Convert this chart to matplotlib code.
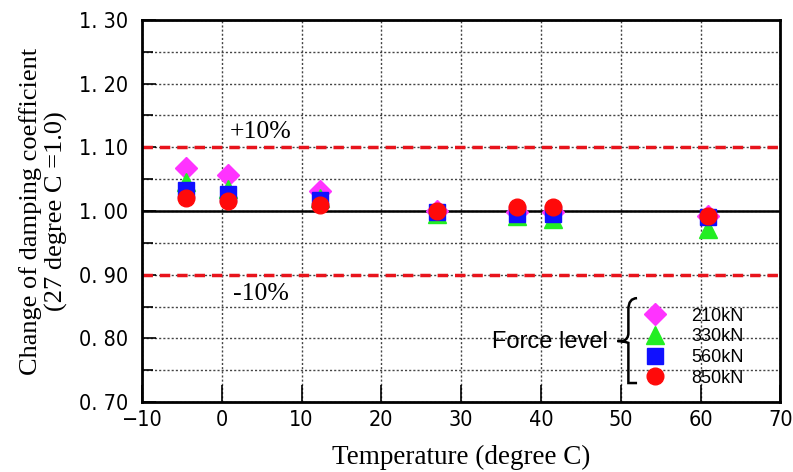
import numpy as np
import matplotlib.pyplot as plt
from matplotlib.path import Path
from matplotlib.patches import PathPatch

temps = [-4.5, 0.8, 12.3, 27.0, 37.0, 41.5, 61.0]
f210 = [1.068, 1.057, 1.032, 1.000, 0.999, 0.999, 0.992]
f330 = [1.045, 1.035, 1.020, 0.996, 0.992, 0.988, 0.972]
f560 = [1.033, 1.026, 1.017, 0.999, 0.996, 0.996, 0.990]
f850 = [1.020, 1.016, 1.010, 1.000, 1.006, 1.006, 0.992]
labels = ['210kN', '330kN', '560kN', '850kN']

xticks = np.arange(-10, 71, 10)
yticks = np.arange(70, 131, 10)  # in hundredths

fig = plt.figure(figsize=(7.93, 4.72), dpi=100)
ax = fig.add_axes([0.179, 0.148, 0.805, 0.810])

ax.set_xlim(-10, 70)
ax.set_ylim(0.70, 1.30)
ax.set_xticks(xticks)
ax.set_yticks(yticks / 100)
ax.set_yticks(np.arange(75, 130, 10) / 100, minor=True)
tickfont = dict(family='DejaVu Sans', fontstretch='condensed', fontsize=15.5)
ax.set_xticklabels([str(t).replace('-', '\u2212') for t in xticks], **tickfont)
ax.set_yticklabels(['%d. %02d' % (v // 100, v % 100) for v in yticks], **tickfont)
ax.tick_params(direction='in', length=10, width=1.2)
ax.tick_params(axis='y', which='minor', direction='in', length=8, width=1.2)
ax.tick_params(axis='y', pad=10)
ax.tick_params(axis='x', length=12, pad=6)
for s in ax.spines.values():
    s.set_linewidth(2)

ax.grid(True, which='both', linestyle=(0, (1.5, 1.5)), color='#444444', linewidth=1.0)
ax.set_axisbelow(True)

ax.axhline(1.0, color='black', lw=1.8, zorder=2)
ax.axhline(1.1, color='#e8141c', lw=2.5, ls=(0, (3, 2)), zorder=2)
ax.axhline(0.9, color='#e8141c', lw=2.5, ls=(0, (3, 2)), zorder=2)
ax.text(1.0, 1.124, '+10%', family='Liberation Serif', fontsize=18.5, va='center')
ax.text(1.4, 0.870, '-10%', family='Liberation Serif', fontsize=18.5, va='center')

ax.plot(temps, f210, 'D', color='#ff33ff', ms=11, ls='none', zorder=3, label=labels[0])
ax.plot(temps, f330, '^', color='#22ee22', ms=13, ls='none', zorder=4, label=labels[1])
ax.plot(temps, f560, 's', color='#1010ff', ms=11, ls='none', zorder=5, label=labels[2])
ax.plot(temps, f850, 'o', color='#ff0a0a', ms=12, ls='none', zorder=6, label=labels[3])

leg = ax.legend(loc='upper left', bbox_to_anchor=(0.77, 0.28), frameon=False,
                prop={'family': 'Liberation Sans', 'size': 13},
                labelspacing=0.2, handletextpad=1.5, borderpad=0.2, handlelength=1.0)

ax.text(0.548, 0.157, 'Force level', transform=ax.transAxes,
        family='Liberation Sans', fontsize=17, va='center')

# curly brace
bx, top, bot, mid = 0.762, 0.272, 0.05, 0.16
w = 0.017
verts = [(bx + w * 0.8, top), (bx, top), (bx, top - 0.03), (bx, mid + 0.02),
         (bx, mid + 0.005), (bx - w * 0.5, mid), (bx - w, mid),
         (bx - w * 0.5, mid), (bx, mid - 0.005), (bx, mid - 0.02),
         (bx, bot + 0.03), (bx, bot), (bx + w * 0.8, bot)]
codes = [Path.MOVETO, Path.CURVE3, Path.CURVE3, Path.LINETO,
         Path.CURVE3, Path.CURVE3, Path.LINETO,
         Path.CURVE3, Path.CURVE3, Path.LINETO,
         Path.CURVE3, Path.CURVE3, Path.LINETO]
ax.add_patch(PathPatch(Path(verts, codes), transform=ax.transAxes, fill=False,
                       lw=1.8, color='black', zorder=7))

ax.set_xlabel('Temperature (degree C)', family='Liberation Serif', fontsize=19.5, labelpad=10)
ax.set_ylabel('Change of damping coefficient\n(27 degree C =1.0)',
              family='Liberation Serif', fontsize=19, labelpad=8, linespacing=1.15)

fig.savefig('out.png', dpi=100)
